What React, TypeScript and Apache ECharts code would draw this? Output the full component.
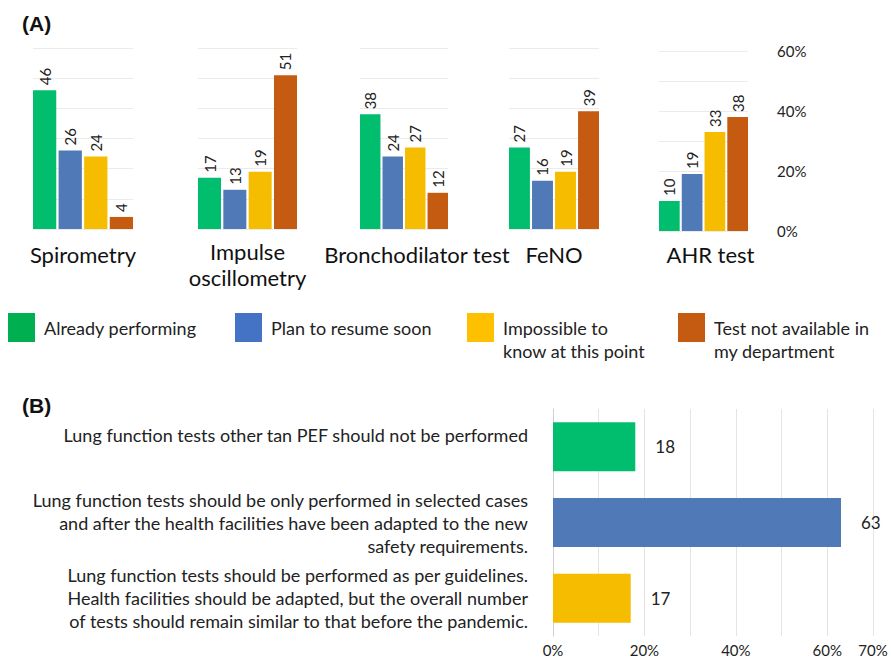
import React, { useEffect, useRef } from "react";
import * as echarts from "echarts";

// Panel A data
const tests = ["Spirometry", "Impulse\noscillometry", "Bronchodilator test", "FeNO", "AHR test"];
const seriesNames = [
  "Already performing",
  "Plan to resume soon",
  "Impossible to know at this point",
  "Test not available in my department",
];
const legendLabels = [
  "Already performing",
  "Plan to resume soon",
  "\nImpossible to\nknow at this point",
  "\nTest not available in\nmy department",
];
const alreadyPerforming = [46, 17, 38, 27, 10];
const planToResume = [26, 13, 24, 16, 19];
const impossibleToKnow = [24, 19, 27, 19, 33];
const notAvailable = [4, 51, 12, 39, 38];
const panelATicks = [0, 10, 20, 30, 40, 50, 60];

// Panel B data
const opinions = [
  "Lung function tests other tan PEF should not be performed\n",
  "Lung function tests should be only performed in selected cases\nand after the health facilities have been adapted to the new\nsafety requirements.",
  "Lung function tests should be performed as per guidelines.\nHealth facilities should be adapted, but the overall number\nof tests should remain similar to that before the pandemic.",
];
const opinionValues = [18, 63, 17];
const panelBTickLabels = [0, 20, 40, 60, 70];

const FONT = "Lato";
const barColors = ["#00BE6E", "#4F7AB7", "#F6BD00", "#C55A11"];
const legendColors = ["#00B050", "#4472C4", "#FFC000", "#C55A11"];

// layout of the five small grids (panel A)
const gridsA = [
  { left: 33, width: 100, top: 48, height: 181, labelMargin: 12, labelPad: 0 },
  { left: 198, width: 99, top: 48, height: 181, labelMargin: 9, labelPad: 0 },
  { left: 360, width: 88, top: 48, height: 181, labelMargin: 12, labelPad: 26 },
  { left: 509, width: 90, top: 48, height: 181, labelMargin: 12, labelPad: 0 },
  { left: 659, width: 89, top: 51, height: 180, labelMargin: 10, labelPad: 14 },
];
const legendPos = [
  { left: 8, top: 313 },
  { left: 235, top: 313 },
  { left: 467, top: 293 },
  { left: 678, top: 293 },
];

export default function App() {
  const ref = useRef<HTMLDivElement>(null);

  useEffect(() => {
    if (!ref.current) return;
    const chart = echarts.init(ref.current, undefined, { renderer: "svg" });
    const valuesBySeries = [alreadyPerforming, planToResume, impossibleToKnow, notAvailable];

    const grid: any[] = [];
    const xAxis: any[] = [];
    const yAxis: any[] = [];
    const series: any[] = [];

    gridsA.forEach((g, gi) => {
      grid.push({ left: g.left, top: g.top, width: g.width, height: g.height });
      xAxis.push({
        type: "category",
        gridIndex: gi,
        data: [tests[gi]],
        axisLine: { show: false },
        axisTick: { show: false },
        axisLabel: {
          margin: g.labelMargin,
          fontFamily: FONT,
          fontSize: 22,
          lineHeight: 26,
          color: "#111",
          padding: [0, 0, 0, g.labelPad],
        },
      });
      const isLast = gi === gridsA.length - 1;
      yAxis.push({
        type: "value",
        gridIndex: gi,
        min: panelATicks[0],
        max: panelATicks[panelATicks.length - 1],
        interval: 10,
        position: "right",
        axisLine: { show: false },
        axisTick: { show: false },
        splitLine: { show: true, lineStyle: { color: "#ebebeb", width: 1 } },
        axisLabel: {
          show: isLast,
          margin: 29,
          fontFamily: FONT,
          fontSize: 15,
          color: "#222",
          padding: [0, 0, 7, 0],
          formatter: (v: number) => (v % 20 === 0 ? v + "%" : ""),
        },
      });
      valuesBySeries.forEach((vals, si) => {
        series.push({
          type: "bar",
          name: seriesNames[si],
          xAxisIndex: gi,
          yAxisIndex: gi,
          data: [vals[gi]],
          barGap: "10%",
          barCategoryGap: "0%",
          itemStyle: { color: barColors[si] },
          label: {
            show: true,
            position: "top",
            rotate: 90,
            align: "left",
            verticalAlign: "middle",
            distance: 5,
            fontFamily: FONT,
            fontSize: 15,
            color: "#222",
          },
        });
      });
    });

    // Panel B
    const bi = gridsA.length;
    grid.push({ left: 553, right: 18, top: 409, bottom: 24 });
    xAxis.push({
      type: "value",
      gridIndex: bi,
      min: 0,
      max: 70,
      interval: 10,
      axisLine: { show: false },
      axisTick: { show: false },
      splitLine: { show: true, lineStyle: { color: "#e4e4e4", width: 1 } },
      axisLabel: {
        margin: 6,
        fontFamily: FONT,
        fontSize: 15,
        color: "#222",
        formatter: (v: number) => (panelBTickLabels.indexOf(v) >= 0 ? v + "%" : ""),
      },
    });
    yAxis.push({
      type: "category",
      gridIndex: bi,
      inverse: true,
      data: opinions,
      axisLine: { show: true, lineStyle: { color: "#d0d0d0" } },
      axisTick: { show: false },
      axisLabel: {
        margin: 25,
        fontFamily: FONT,
        fontSize: 18,
        lineHeight: 23,
        color: "#222",
        align: "right",
      },
    });
    series.push({
      type: "bar",
      name: "Opinion",
      xAxisIndex: bi,
      yAxisIndex: bi,
      barWidth: 49,
      data: opinionValues.map((v, i) => ({ value: v, itemStyle: { color: barColors[i] } })),
      label: {
        show: true,
        position: "right",
        distance: 20,
        fontFamily: FONT,
        fontSize: 17,
        color: "#222",
      },
    });

    const legend = seriesNames.map((n, i) => ({
      left: legendPos[i].left,
      top: legendPos[i].top,
      padding: 0,
      orient: "horizontal",
      icon: "rect",
      itemWidth: 27,
      itemHeight: 29,
      data: [{ name: n, itemStyle: { color: legendColors[i] } }],
      formatter: () => legendLabels[i],
      textStyle: {
        fontFamily: FONT,
        fontSize: 18,
        lineHeight: 23,
        color: "#222",
        padding: [0, 0, 0, 4],
      },
    }));

    chart.setOption({
      animation: false,
      backgroundColor: "#ffffff",
      grid,
      xAxis,
      yAxis,
      series,
      legend,
      graphic: [
        {
          type: "text",
          left: 22,
          top: 13,
          style: { text: "(A)", fontFamily: "Liberation Sans", fontWeight: "bold", fontSize: 21, fill: "#111" },
        },
        {
          type: "text",
          left: 22,
          top: 395,
          style: { text: "(B)", fontFamily: "Liberation Sans", fontWeight: "bold", fontSize: 21, fill: "#111" },
        },
      ],
    });

    return () => {
      chart.dispose();
    };
  }, []);

  return (
    <div
      ref={ref}
      style={{ position: "fixed", left: 0, top: 0, width: 891, height: 660, background: "#fff" }}
    />
  );
}
